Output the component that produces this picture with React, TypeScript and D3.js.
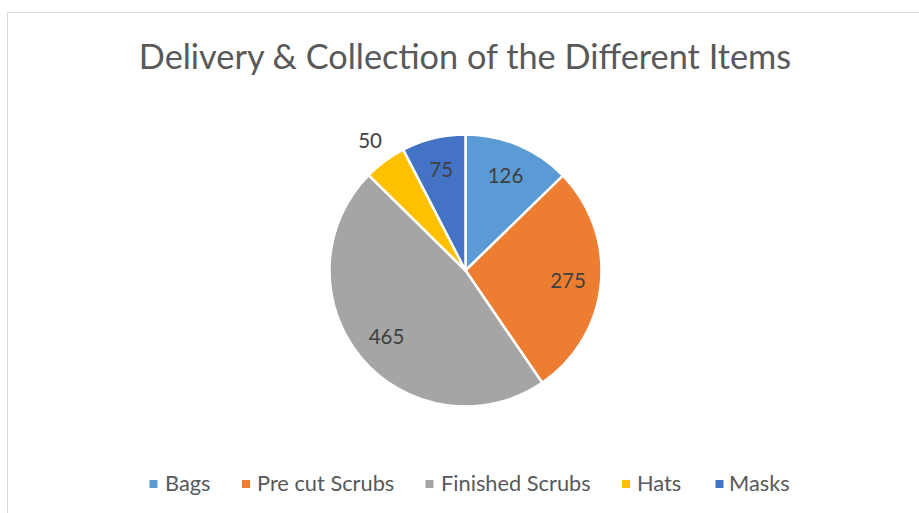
import React from "react";
import * as d3 from "d3";

const categories = ["Bags", "Pre cut Scrubs", "Finished Scrubs", "Hats", "Masks"];
const values = [126, 275, 465, 50, 75];
const colors = ["#5B9BD5", "#ED7D31", "#A5A5A5", "#FFC000", "#4472C4"];
const title = "Delivery & Collection of the Different Items";
const outsideLabel = [false, false, false, true, false];

const W = 919, H = 513;
const FONT = "Lato, 'Open Sans', sans-serif";

export default function App() {
  const cx = 465.5, cy = 270.5, R = 136;
  const pie = d3.pie<number>().sort(null).value((d) => d)(values);
  const arc = d3.arc<d3.PieArcDatum<number>>().innerRadius(0).outerRadius(R);
  const labelIn = d3.arc<d3.PieArcDatum<number>>().innerRadius(103).outerRadius(103);
  const labelOut = d3.arc<d3.PieArcDatum<number>>().innerRadius(161).outerRadius(161);

  const squareX = [153.5, 246, 429.5, 626, 719.5];
  const textX = [165, 257, 441, 637, 729];

  return (
    <svg width={W} height={H} style={{ position: "absolute", left: 0, top: 0 }} fontFamily={FONT}>
      <rect x={0} y={0} width={W} height={H} fill="#fff" />
      <rect x={7.5} y={12.5} width={W} height={H} fill="#fff" stroke="#D9D9D9" strokeWidth={1} />
      <text x={465} y={55.5} textAnchor="middle" dominantBaseline="central" fontSize={34.3} fill="#595959">
        {title}
      </text>
      <g transform={`translate(${cx},${cy})`}>
        {pie.map((p, i) => (
          <path key={i} d={arc(p) || ""} fill={colors[i]} stroke="#fff" strokeWidth={2.5} strokeLinejoin="round" />
        ))}
        {pie.map((p, i) => {
          const [x, y] = (outsideLabel[i] ? labelOut : labelIn).centroid(p);
          return (
            <text key={i} x={x} y={y - 1} textAnchor="middle" dominantBaseline="central" fontSize={20.5} fill="#404040">
              {values[i]}
            </text>
          );
        })}
      </g>
      {categories.map((c, i) => (
        <g key={c}>
          <rect x={squareX[i] - 4} y={480} width={8} height={8} fill={colors[i]} />
          <text x={textX[i]} y={482.5} dominantBaseline="central" fontSize={21.8} fill="#595959">
            {c}
          </text>
        </g>
      ))}
    </svg>
  );
}
